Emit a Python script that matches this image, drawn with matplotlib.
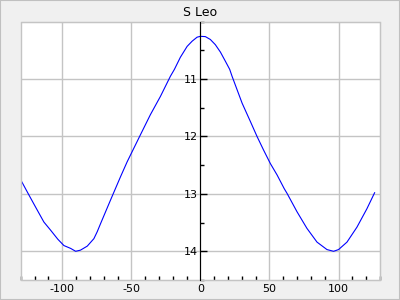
import matplotlib
matplotlib.use('Agg')
import matplotlib.pyplot as plt
from matplotlib.patches import Rectangle
from matplotlib.ticker import MultipleLocator
import numpy as np

# phase (days) vs. visual magnitude
days = [-129.5, -124.1, -119.3, -113.3, -108.5, -103.2, -98.8, -93.9, -90.3,
        -86.8, -81.9, -77.1, -74.7, -72.3, -65.1, -57.8, -53.0, -43.4,
        -36.2, -28.9, -21.7, -18.8, -14.5, -9.6, -6.0, -2.4, 0.0, 3.6, 7.2,
        10.8, 14.5, 18.1, 21.2, 22.9, 30.2, 36.2, 41.0, 45.8, 50.6, 55.5,
        60.7, 62.7, 69.9, 77.1, 84.4, 91.6, 96.4, 100.0, 106.1, 113.3, 120.5,
        126.1]
mag = [12.78, 13.02, 13.23, 13.49, 13.63, 13.79, 13.90, 13.95, 14.00,
       13.98, 13.91, 13.78, 13.66, 13.52, 13.11, 12.70, 12.44, 11.97,
       11.62, 11.30, 10.95, 10.83, 10.62, 10.43, 10.34, 10.27, 10.255, 10.26,
       10.31, 10.40, 10.53, 10.69, 10.83, 10.95, 11.42, 11.74, 12.00, 12.24,
       12.47, 12.67, 12.91, 12.99, 13.31, 13.60, 13.84, 13.97, 14.00, 13.97,
       13.84, 13.58, 13.26, 12.98]
title = "S Leo"

grey = '#c4c4c4'
plt.rcParams['axes.unicode_minus'] = False

fig = plt.figure(figsize=(4, 3), dpi=100)
fig.patch.set_facecolor('#f0f0f0')
fig.add_artist(Rectangle((0, 0), 1, 1, transform=fig.transFigure,
                         fill=False, edgecolor='#c0c0c0', lw=1.5))

ax = fig.add_axes([0.052, 0.0667, 0.898, 0.861])
ax.set_facecolor('white')
ax.plot(days, mag, color='blue', lw=0.8)

ax.set_xlim(-130, 130)
ax.set_ylim(14.5, 10)

ax.xaxis.set_major_locator(MultipleLocator(50))
ax.xaxis.set_minor_locator(MultipleLocator(10))
ax.yaxis.set_minor_locator(MultipleLocator(0.5))
ax.set_yticks([11, 12, 13, 14])
ax.grid(True, which='major', color=grey, lw=1)

for s in ['top', 'right', 'bottom']:
    ax.spines[s].set_color(grey)
ax.spines['left'].set_position(('data', 0))
ax.spines['left'].set_color('black')
ax.spines['left'].set_zorder(3)
ax.add_patch(Rectangle((0, 0), 1, 1, transform=ax.transAxes, fill=False,
                       edgecolor=grey, lw=1, clip_on=False, zorder=2))

ax.tick_params(axis='x', which='both', direction='in', colors='black',
               labelsize=8, pad=3)
ax.tick_params(axis='x', which='major', length=0)
ax.tick_params(axis='x', which='minor', length=3, width=1)
ax.tick_params(axis='y', which='both', direction='in', labelsize=8, pad=2)
ax.tick_params(axis='y', which='major', length=5, width=1)
ax.tick_params(axis='y', which='minor', length=3, width=1)

ax.set_title(title, fontsize=9, pad=4)

fig.savefig('out.png', dpi=100, facecolor=fig.get_facecolor())
